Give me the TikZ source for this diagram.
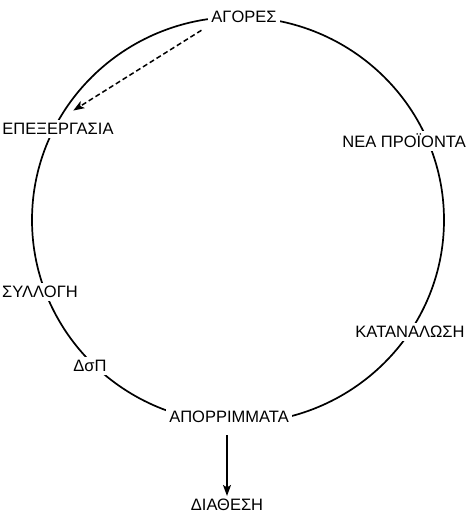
\documentclass[tikz,border=0pt]{standalone}
\usepackage{fontspec}
\setmainfont{Liberation Sans}
\usetikzlibrary{arrows.meta}
\begin{document}
\begin{tikzpicture}[x=1pt,y=-1pt,
  lbl/.style={font=\fontsize{16.5}{18}\selectfont, fill=white, inner sep=3pt},
  ring/.style={line width=1.7pt},
  flow/.style={line width=1.5pt,-{Stealth[length=11pt,width=8pt,inset=2.5pt]}}]
\useasboundingbox (0,0) rectangle (467,513);
\draw[ring] (238,220) ellipse [x radius=206, y radius=203];
\node[lbl] (agores) at (244,17) {ΑΓΟΡΕΣ};
\node[lbl] (epe) at (58,129) {ΕΠΕΞΕΡΓΑΣΙΑ};
\node[lbl,anchor=east] (nea) at (469,141) {ΝΕΑ ΠΡΟΪΟΝΤΑ};
\node[lbl] (syl) at (40,292) {ΣΥΛΛΟΓΗ};
\node[lbl] (kat) at (410,332) {ΚΑΤΑΝΑΛΩΣΗ};
\node[lbl] (dsp) at (90,366) {ΔσΠ};
\node[lbl] (apo) at (229,417) {ΑΠΟΡΡΙΜΜΑΤΑ};
\node[lbl] (dia) at (227,505) {ΔΙΑΘΕΣΗ};
\draw[flow,shorten <=9pt] (apo.south -| dia.north) -- (dia.north);
\draw[flow,dash pattern=on 5pt off 3pt,shorten <=8pt,shorten >=18pt] (agores.south west) -- (epe.north);
\end{tikzpicture}
\end{document}
